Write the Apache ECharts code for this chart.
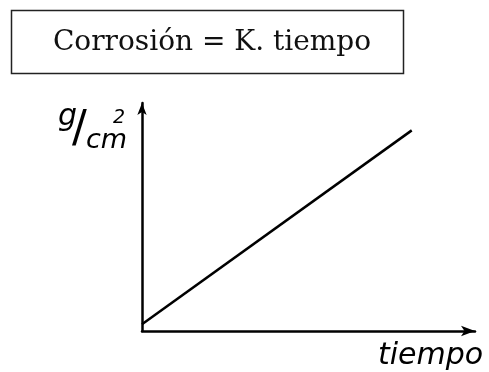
<!DOCTYPE html>
<html>
<head>
<meta charset="utf-8">
<script src="https://cdn.jsdelivr.net/npm/echarts@6/dist/echarts.min.js"></script>
<style>
  html, body { margin: 0; padding: 0; background: #fff; }
  #chart { width: 489px; height: 372px; }
</style>
</head>
<body>
<div id="chart"></div>
<script>
// Linear corrosion law: corrosion grows in proportion to time
const tiempo = [0, 81];
const corrosion = [3, 88];
const titleText = 'Corrosión = K. tiempo';
const xName = 'tiempo';

const points = tiempo.map((t, i) => [t, corrosion[i]]);

const font = s => 'italic ' + s + 'px "DejaVu Sans", sans-serif';
const upright = s => s + 'px "DejaVu Sans", sans-serif';

const chart = echarts.init(document.getElementById('chart'), null, { renderer: 'canvas' });
chart.setOption({
  backgroundColor: '#ffffff',
  animation: false,
  grid: { left: 142, right: 14, top: 103, bottom: 41 },
  xAxis: {
    type: 'value', min: 0, max: 100,
    axisLine: { show: true, symbol: ['none', 'arrow'], symbolSize: [8, 14],
      lineStyle: { color: '#000', width: 2.5 } },
    axisTick: { show: false }, axisLabel: { show: false }, splitLine: { show: false }
  },
  yAxis: {
    type: 'value', min: 0, max: 100,
    axisLine: { show: true, symbol: ['none', 'arrow'], symbolSize: [7, 12],
      lineStyle: { color: '#000', width: 2.5 } },
    axisTick: { show: false }, axisLabel: { show: false }, splitLine: { show: false }
  },
  series: [{
    type: 'line',
    data: points,
    showSymbol: false,
    lineStyle: { color: '#000', width: 2.5 }
  }],
  graphic: [
    {
      type: 'rect',
      shape: { x: 11.5, y: 10.5, width: 392, height: 63 },
      style: { fill: 'none', stroke: '#222', lineWidth: 1.5 }
    },
    {
      type: 'text',
      x: 212, y: 43,
      style: {
        text: titleText,
        font: '28px "DejaVu Serif", "Liberation Serif", serif',
        fill: '#111', textAlign: 'center', textVerticalAlign: 'middle'
      }
    },
    // unit label g/cm², written as a slanted fraction
    {
      type: 'text', x: 58, y: 117,
      style: { text: 'g', font: font(30), fill: '#000', textAlign: 'left', textVerticalAlign: 'middle' }
    },
    {
      type: 'text', x: 72, y: 131,
      style: { text: '/', font: upright(44), fill: '#000', textAlign: 'left', textVerticalAlign: 'middle' }
    },
    {
      type: 'text', x: 86, y: 141,
      style: { text: 'cm', font: font(27), fill: '#000', textAlign: 'left', textVerticalAlign: 'middle' }
    },
    {
      type: 'text', x: 113, y: 118,
      style: { text: '2', font: font(19), fill: '#000', textAlign: 'left', textVerticalAlign: 'middle' }
    },
    {
      type: 'text',
      x: 378, y: 356,
      style: {
        text: xName,
        font: font(30),
        fill: '#000', textAlign: 'left', textVerticalAlign: 'middle'
      }
    }
  ]
});
</script>
</body>
</html>
